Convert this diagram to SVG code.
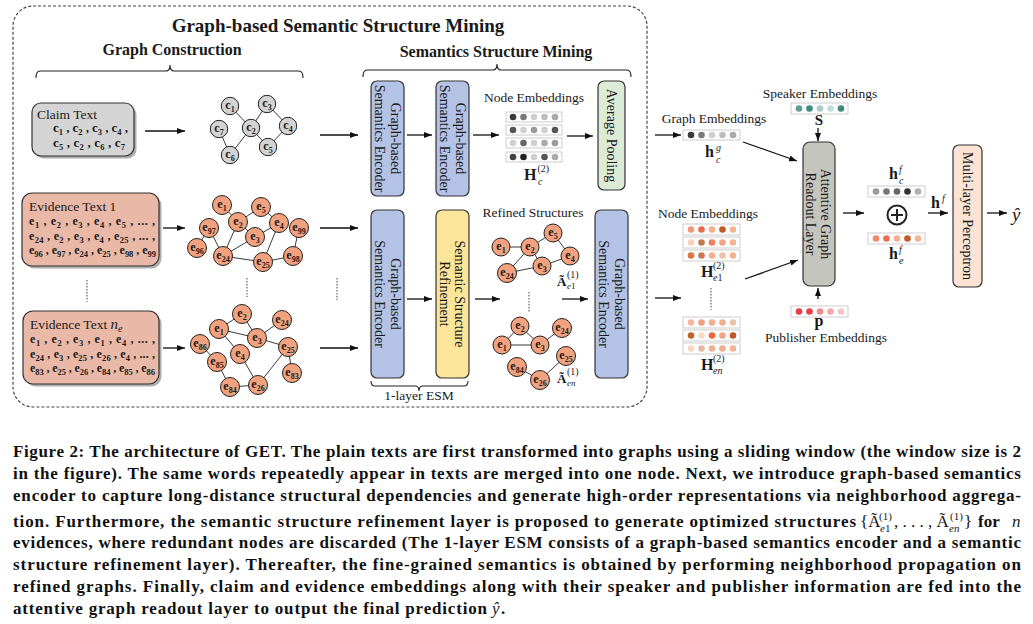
<svg xmlns="http://www.w3.org/2000/svg" width="1033" height="624" viewBox="0 0 1033 624">
<defs>
<marker id="ah" markerUnits="userSpaceOnUse" markerWidth="8" markerHeight="6" refX="8" refY="3" orient="auto"><path d="M0,0 L8,3 L0,6 z" fill="#111"/></marker>
<style>
text{font-family:"Liberation Serif","Times New Roman",serif;fill:#1a1a1a}
.title{font-size:19px;font-weight:bold;text-anchor:middle}
.hd{font-size:16px;font-weight:bold;text-anchor:middle}
.lbl{font-size:13.5px}
.mid{text-anchor:middle}
.rt{font-size:14px;text-anchor:middle}
.bt{font-size:13px;font-weight:bold}
.et{font-size:12px;font-weight:bold}
.s{font-size:8.5px}
.box{stroke:#333;stroke-width:1.2}
.enc{fill:#b4c3e5}
.shadow{fill:#6b6b6b;opacity:.55}
.nc circle{fill:#d3d3d3;stroke:#222;stroke-width:1}
.ne circle{fill:#f2a27f;stroke:#222;stroke-width:1}
.nl{font-size:12px;font-weight:bold;text-anchor:middle}
.ns{font-size:8px}
.edge{stroke:#222;stroke-width:.9;fill:none}
.arr{stroke:#111;stroke-width:1.3;fill:none;marker-end:url(#ah)}
.dotl{stroke:#555;stroke-width:1.1;stroke-dasharray:1.5 1.5}
.brace{stroke:#222;stroke-width:1.1;fill:none}
.row{fill:#fff;stroke:#cdcdcd;stroke-width:1}
.mb{font-size:16px;font-weight:bold}
.ms{font-size:10px}
.mi{font-size:10px;font-style:italic}
.cap{font-size:17px;font-weight:bold;fill:#111}
.capm{font-size:17px;fill:#111}
</style>
</defs>
<rect width="1033" height="624" fill="#fff"/>

<g id="frame">
<rect x="13" y="6" width="634" height="401" rx="20" fill="none" stroke="#444" stroke-width="1.2" stroke-dasharray="3 2"/>
<text class="title" x="338" y="32">Graph-based Semantic Structure Mining</text>
</g>

<g id="graph-construction-label">
<text class="hd" x="172" y="55">Graph Construction</text>
<path class="brace" d="M36,78 Q36,71 40,71 L166,71 Q170,71 170,65 Q170,71 174,71 L299,71 Q303,71 303,78"/>
</g>
<g id="semantics-structure-mining-label">
<text class="hd" x="496" y="57">Semantics Structure Mining</text>
<path class="brace" d="M363,77 Q363,70 367,70 L493,70 Q497,70 497,64 Q497,70 501,70 L627,70 Q631,70 631,77"/>
</g>
<g id="esm-label">
<path class="brace" d="M371,381 Q371,386 375,386 L415,386 Q419,386 419,391 Q419,386 423,386 L464,386 Q468,386 468,381"/>
<text class="lbl mid" x="419" y="400">1-layer ESM</text>
</g>

<g id="connectors">
<!-- claim graph edges -->
<line class="edge" x1="230" y1="106" x2="251" y2="128"/>
<line class="edge" x1="251" y1="128" x2="267" y2="104"/>
<line class="edge" x1="267" y1="104" x2="288" y2="126"/>
<line class="edge" x1="288" y1="126" x2="268" y2="147"/>
<line class="edge" x1="268" y1="147" x2="251" y2="128"/>
<line class="edge" x1="251" y1="128" x2="230" y2="155"/>
<line class="edge" x1="230" y1="155" x2="219" y2="129"/>
<!-- evidence 1 edges -->
<line class="edge" x1="222" y1="205" x2="238" y2="222"/>
<line class="edge" x1="238" y1="222" x2="261" y2="207"/>
<line class="edge" x1="261" y1="207" x2="279" y2="223"/>
<line class="edge" x1="279" y1="223" x2="255" y2="237"/>
<line class="edge" x1="238" y1="222" x2="255" y2="237"/>
<line class="edge" x1="238" y1="222" x2="223" y2="256"/>
<line class="edge" x1="255" y1="237" x2="223" y2="256"/>
<line class="edge" x1="279" y1="223" x2="263" y2="262"/>
<line class="edge" x1="209" y1="228" x2="197" y2="248"/>
<line class="edge" x1="209" y1="228" x2="223" y2="256"/>
<line class="edge" x1="223" y1="256" x2="263" y2="262"/>
<line class="edge" x1="263" y1="262" x2="293" y2="256"/>
<line class="edge" x1="293" y1="256" x2="299" y2="228"/>
<!-- evidence n edges -->
<line class="edge" x1="219" y1="329" x2="242" y2="314"/>
<line class="edge" x1="242" y1="314" x2="257" y2="338"/>
<line class="edge" x1="219" y1="329" x2="257" y2="338"/>
<line class="edge" x1="257" y1="338" x2="282" y2="320"/>
<line class="edge" x1="257" y1="338" x2="288" y2="347"/>
<line class="edge" x1="219" y1="329" x2="240" y2="354"/>
<line class="edge" x1="240" y1="354" x2="258" y2="385"/>
<line class="edge" x1="258" y1="385" x2="288" y2="347"/>
<line class="edge" x1="288" y1="347" x2="292" y2="373"/>
<line class="edge" x1="200" y1="344" x2="217" y2="362"/>
<line class="edge" x1="217" y1="362" x2="230" y2="387"/>
<line class="edge" x1="230" y1="387" x2="258" y2="385"/>
<!-- refined 1 edges -->
<line class="edge" x1="501" y1="247" x2="530" y2="247"/>
<line class="edge" x1="530" y1="247" x2="553" y2="233"/>
<line class="edge" x1="553" y1="233" x2="570" y2="256"/>
<line class="edge" x1="570" y1="256" x2="542" y2="266"/>
<line class="edge" x1="530" y1="247" x2="542" y2="266"/>
<line class="edge" x1="530" y1="247" x2="507" y2="273"/>
<line class="edge" x1="507" y1="273" x2="542" y2="266"/>
<!-- refined n edges -->
<line class="edge" x1="502" y1="345" x2="520" y2="326"/>
<line class="edge" x1="502" y1="345" x2="540" y2="345"/>
<line class="edge" x1="520" y1="326" x2="540" y2="345"/>
<line class="edge" x1="540" y1="345" x2="562" y2="328"/>
<line class="edge" x1="566" y1="356" x2="540" y2="380"/>
<line class="edge" x1="517" y1="367" x2="540" y2="380"/>
<!-- arrows -->
<line class="arr" x1="145" y1="131" x2="185" y2="131"/>
<line class="arr" x1="320" y1="135" x2="358" y2="135"/>
<line class="arr" x1="163" y1="228" x2="185" y2="228"/>
<line class="arr" x1="320" y1="228" x2="358" y2="228"/>
<line class="arr" x1="163" y1="348" x2="185" y2="348"/>
<line class="arr" x1="320" y1="348" x2="358" y2="348"/>
<line class="arr" x1="407" y1="135" x2="432" y2="135"/>
<line class="arr" x1="473" y1="135" x2="499" y2="135"/>
<line class="arr" x1="567" y1="136" x2="593" y2="136"/>
<line class="arr" x1="655" y1="135" x2="681" y2="135"/>
<line class="arr" x1="743" y1="142" x2="797" y2="161"/>
<line class="arr" x1="818" y1="128" x2="818" y2="141"/>
<line class="arr" x1="407" y1="299" x2="432" y2="299"/>
<line class="arr" x1="475" y1="299" x2="500" y2="299"/>
<line class="arr" x1="562" y1="299" x2="588" y2="299"/>
<line class="arr" x1="655" y1="298" x2="681" y2="298"/>
<line class="arr" x1="745" y1="279" x2="798" y2="260"/>
<line class="arr" x1="818" y1="299" x2="818" y2="288"/>
<line class="arr" x1="843" y1="213" x2="864" y2="213"/>
<line class="arr" x1="928" y1="213" x2="948" y2="213"/>
<line class="arr" x1="987" y1="213" x2="1007" y2="213"/>
<!-- dotted continuation lines -->
<line class="dotl" x1="87" y1="280" x2="87" y2="302"/>
<line class="dotl" x1="247" y1="278" x2="247" y2="297"/>
<line class="dotl" x1="337" y1="278" x2="337" y2="300"/>
<line class="dotl" x1="529" y1="292" x2="529" y2="313"/>
<line class="dotl" x1="711" y1="288" x2="711" y2="310"/>
</g>

<g id="claim-text">
<rect class="shadow" x="34.5" y="105.5" width="102" height="53" rx="9"/>
<rect class="box" x="32" y="103" width="102" height="53" rx="9" fill="#d4d4d4"/>
<text class="lbl" x="37" y="119">Claim Text</text>
<text class="bt" x="53" y="132" textLength="75" lengthAdjust="spacing">c<tspan class="s" dy="3">1</tspan><tspan dy="-3"> , c</tspan><tspan class="s" dy="3">2</tspan><tspan dy="-3"> , c</tspan><tspan class="s" dy="3">3</tspan><tspan dy="-3"> , c</tspan><tspan class="s" dy="3">4</tspan><tspan dy="-3"> ,</tspan></text>
<text class="bt" x="53" y="147" textLength="72" lengthAdjust="spacing">c<tspan class="s" dy="3">5</tspan><tspan dy="-3"> , c</tspan><tspan class="s" dy="3">2</tspan><tspan dy="-3"> , c</tspan><tspan class="s" dy="3">6</tspan><tspan dy="-3"> , c</tspan><tspan class="s" dy="3">7</tspan></text>
</g>

<g id="evidence-text-1">
<rect class="shadow" x="24.5" y="195.5" width="137" height="73" rx="10"/>
<rect class="box" x="22" y="193" width="137" height="73" rx="10" fill="#e9b8a6"/>
<text class="lbl" x="29" y="211">Evidence Text 1</text>
<text class="et" x="29" y="225" textLength="126" lengthAdjust="spacing">e<tspan class="s" dy="3">1</tspan><tspan dy="-3"> , e</tspan><tspan class="s" dy="3">2</tspan><tspan dy="-3"> , e</tspan><tspan class="s" dy="3">3</tspan><tspan dy="-3"> , e</tspan><tspan class="s" dy="3">4</tspan><tspan dy="-3"> , e</tspan><tspan class="s" dy="3">5</tspan><tspan dy="-3"> , ... ,</tspan></text>
<text class="et" x="29" y="240" textLength="126" lengthAdjust="spacing">e<tspan class="s" dy="3">24</tspan><tspan dy="-3"> , e</tspan><tspan class="s" dy="3">2</tspan><tspan dy="-3"> , e</tspan><tspan class="s" dy="3">3</tspan><tspan dy="-3"> , e</tspan><tspan class="s" dy="3">4</tspan><tspan dy="-3"> , e</tspan><tspan class="s" dy="3">25</tspan><tspan dy="-3"> , ... ,</tspan></text>
<text class="et" x="29" y="254" textLength="127" lengthAdjust="spacing">e<tspan class="s" dy="3">96</tspan><tspan dy="-3"> , e</tspan><tspan class="s" dy="3">97</tspan><tspan dy="-3"> , e</tspan><tspan class="s" dy="3">24</tspan><tspan dy="-3"> , e</tspan><tspan class="s" dy="3">25</tspan><tspan dy="-3"> , e</tspan><tspan class="s" dy="3">98</tspan><tspan dy="-3"> , e</tspan><tspan class="s" dy="3">99</tspan></text>
</g>

<g id="evidence-text-n">
<rect class="shadow" x="25.5" y="313.5" width="136" height="73" rx="10"/>
<rect class="box" x="23" y="311" width="136" height="73" rx="10" fill="#e9b8a6"/>
<text class="lbl" x="30" y="329">Evidence Text <tspan font-style="italic" font-size="15px">n</tspan><tspan font-style="italic" font-size="10px" dy="3">e</tspan></text>
<text class="et" x="30" y="343" textLength="125" lengthAdjust="spacing">e<tspan class="s" dy="3">1</tspan><tspan dy="-3"> , e</tspan><tspan class="s" dy="3">2</tspan><tspan dy="-3"> , e</tspan><tspan class="s" dy="3">3</tspan><tspan dy="-3"> , e</tspan><tspan class="s" dy="3">1</tspan><tspan dy="-3"> , e</tspan><tspan class="s" dy="3">4</tspan><tspan dy="-3"> , ... ,</tspan></text>
<text class="et" x="30" y="358" textLength="125" lengthAdjust="spacing">e<tspan class="s" dy="3">24</tspan><tspan dy="-3"> , e</tspan><tspan class="s" dy="3">3</tspan><tspan dy="-3"> , e</tspan><tspan class="s" dy="3">25</tspan><tspan dy="-3"> , e</tspan><tspan class="s" dy="3">26</tspan><tspan dy="-3"> , e</tspan><tspan class="s" dy="3">4</tspan><tspan dy="-3"> , ... ,</tspan></text>
<text class="et" x="30" y="372" textLength="125" lengthAdjust="spacing">e<tspan class="s" dy="3">83</tspan><tspan dy="-3"> , e</tspan><tspan class="s" dy="3">25</tspan><tspan dy="-3"> , e</tspan><tspan class="s" dy="3">26</tspan><tspan dy="-3"> , e</tspan><tspan class="s" dy="3">84</tspan><tspan dy="-3"> , e</tspan><tspan class="s" dy="3">85</tspan><tspan dy="-3"> , e</tspan><tspan class="s" dy="3">86</tspan></text>
</g>

<!-- claim graph nodes -->
<g id="cg-c1" class="nc"><circle cx="230" cy="106" r="8.7"/><text class="nl" x="230" y="109">c<tspan class="ns" dy="2.5">1</tspan></text></g>
<g id="cg-c3" class="nc"><circle cx="267" cy="104" r="8.7"/><text class="nl" x="267" y="107">c<tspan class="ns" dy="2.5">3</tspan></text></g>
<g id="cg-c7" class="nc"><circle cx="219" cy="129" r="8.7"/><text class="nl" x="219" y="132">c<tspan class="ns" dy="2.5">7</tspan></text></g>
<g id="cg-c2" class="nc"><circle cx="251" cy="128" r="8.7"/><text class="nl" x="251" y="131">c<tspan class="ns" dy="2.5">2</tspan></text></g>
<g id="cg-c4" class="nc"><circle cx="288" cy="126" r="8.7"/><text class="nl" x="288" y="129">c<tspan class="ns" dy="2.5">4</tspan></text></g>
<g id="cg-c6" class="nc"><circle cx="230" cy="155" r="8.7"/><text class="nl" x="230" y="158">c<tspan class="ns" dy="2.5">6</tspan></text></g>
<g id="cg-c5" class="nc"><circle cx="268" cy="147" r="8.7"/><text class="nl" x="268" y="150">c<tspan class="ns" dy="2.5">5</tspan></text></g>

<!-- evidence 1 graph nodes -->
<g id="e1g-e1" class="ne"><circle cx="222" cy="205" r="9.5"/><text class="nl" x="222" y="208">e<tspan class="ns" dy="2.5">1</tspan></text></g>
<g id="e1g-e5" class="ne"><circle cx="261" cy="207" r="9.5"/><text class="nl" x="261" y="210">e<tspan class="ns" dy="2.5">5</tspan></text></g>
<g id="e1g-e2" class="ne"><circle cx="238" cy="222" r="9.5"/><text class="nl" x="238" y="225">e<tspan class="ns" dy="2.5">2</tspan></text></g>
<g id="e1g-e97" class="ne"><circle cx="209" cy="228" r="9.5"/><text class="nl" x="209" y="231">e<tspan class="ns" dy="2.5">97</tspan></text></g>
<g id="e1g-e4" class="ne"><circle cx="279" cy="223" r="9.5"/><text class="nl" x="279" y="226">e<tspan class="ns" dy="2.5">4</tspan></text></g>
<g id="e1g-e99" class="ne"><circle cx="299" cy="228" r="9.5"/><text class="nl" x="299" y="231">e<tspan class="ns" dy="2.5">99</tspan></text></g>
<g id="e1g-e3" class="ne"><circle cx="255" cy="237" r="9.5"/><text class="nl" x="255" y="240">e<tspan class="ns" dy="2.5">3</tspan></text></g>
<g id="e1g-e96" class="ne"><circle cx="197" cy="248" r="9.5"/><text class="nl" x="197" y="251">e<tspan class="ns" dy="2.5">96</tspan></text></g>
<g id="e1g-e24" class="ne"><circle cx="223" cy="256" r="9.5"/><text class="nl" x="223" y="259">e<tspan class="ns" dy="2.5">24</tspan></text></g>
<g id="e1g-e25" class="ne"><circle cx="263" cy="262" r="9.5"/><text class="nl" x="263" y="265">e<tspan class="ns" dy="2.5">25</tspan></text></g>
<g id="e1g-e98" class="ne"><circle cx="293" cy="256" r="9.5"/><text class="nl" x="293" y="259">e<tspan class="ns" dy="2.5">98</tspan></text></g>

<!-- evidence n graph nodes -->
<g id="eng-e2" class="ne"><circle cx="242" cy="314" r="9.5"/><text class="nl" x="242" y="317">e<tspan class="ns" dy="2.5">2</tspan></text></g>
<g id="eng-e24" class="ne"><circle cx="282" cy="320" r="9.5"/><text class="nl" x="282" y="323">e<tspan class="ns" dy="2.5">24</tspan></text></g>
<g id="eng-e1" class="ne"><circle cx="219" cy="329" r="9.5"/><text class="nl" x="219" y="332">e<tspan class="ns" dy="2.5">1</tspan></text></g>
<g id="eng-e86" class="ne"><circle cx="200" cy="344" r="9.5"/><text class="nl" x="200" y="347">e<tspan class="ns" dy="2.5">86</tspan></text></g>
<g id="eng-e3" class="ne"><circle cx="257" cy="338" r="9.5"/><text class="nl" x="257" y="341">e<tspan class="ns" dy="2.5">3</tspan></text></g>
<g id="eng-e25" class="ne"><circle cx="288" cy="347" r="9.5"/><text class="nl" x="288" y="350">e<tspan class="ns" dy="2.5">25</tspan></text></g>
<g id="eng-e4" class="ne"><circle cx="240" cy="354" r="9.5"/><text class="nl" x="240" y="357">e<tspan class="ns" dy="2.5">4</tspan></text></g>
<g id="eng-e85" class="ne"><circle cx="217" cy="362" r="9.5"/><text class="nl" x="217" y="365">e<tspan class="ns" dy="2.5">85</tspan></text></g>
<g id="eng-e83" class="ne"><circle cx="292" cy="373" r="9.5"/><text class="nl" x="292" y="376">e<tspan class="ns" dy="2.5">83</tspan></text></g>
<g id="eng-e84" class="ne"><circle cx="230" cy="387" r="9.5"/><text class="nl" x="230" y="390">e<tspan class="ns" dy="2.5">84</tspan></text></g>
<g id="eng-e26" class="ne"><circle cx="258" cy="385" r="9.5"/><text class="nl" x="258" y="388">e<tspan class="ns" dy="2.5">26</tspan></text></g>

<!-- encoders and layers -->
<g id="encoder-1"><rect class="box enc" x="371" y="81" width="33" height="115" rx="6"/>
<text class="rt" transform="translate(390.5,138.5) rotate(90)"><tspan x="0" y="0">Graph-based</tspan><tspan x="0" y="16">Semantics Encoder</tspan></text></g>
<g id="encoder-2"><rect class="box enc" x="436" y="81" width="33" height="115" rx="6"/>
<text class="rt" transform="translate(455.5,138.5) rotate(90)"><tspan x="0" y="0">Graph-based</tspan><tspan x="0" y="16">Semantics Encoder</tspan></text></g>
<g id="average-pooling"><rect class="box" x="598" y="81" width="27" height="109" rx="6" fill="#dcebd5"/>
<text class="rt" transform="translate(607,135.5) rotate(90)">Average Pooling</text></g>
<g id="encoder-3"><rect class="box enc" x="371" y="210" width="33" height="168" rx="6"/>
<text class="rt" transform="translate(390.5,294) rotate(90)"><tspan x="0" y="0">Graph-based</tspan><tspan x="0" y="16">Semantics Encoder</tspan></text></g>
<g id="semantic-structure-refinement"><rect class="box" x="436" y="210" width="33" height="168" rx="6" fill="#fbe59b"/>
<text class="rt" transform="translate(455,294) rotate(90)"><tspan x="0" y="0">Semantic Structure</tspan><tspan x="0" y="15">Refinement</tspan></text></g>
<g id="encoder-4"><rect class="box enc" x="595" y="210" width="33" height="168" rx="6"/>
<text class="rt" transform="translate(614.5,294) rotate(90)"><tspan x="0" y="0">Graph-based</tspan><tspan x="0" y="16">Semantics Encoder</tspan></text></g>

<!-- claim node embeddings H_c -->
<g id="node-embeddings-claim">
<text class="lbl mid" x="534" y="102">Node Embeddings</text>
<rect class="row" x="506" y="112" width="56" height="10"/>
<circle cx="513" cy="117" r="3.3" fill="#3a3a3a"/><circle cx="523.5" cy="117" r="3.3" fill="#7a7a7a"/><circle cx="534" cy="117" r="3.3" fill="#cfcfcf"/><circle cx="544.5" cy="117" r="3.3" fill="#bdbdbd"/><circle cx="555" cy="117" r="3.3" fill="#a9a9a9"/>
<rect class="row" x="506" y="125" width="56" height="10"/>
<circle cx="513" cy="130" r="3.3" fill="#555"/><circle cx="523.5" cy="130" r="3.3" fill="#cfcfcf"/><circle cx="534" cy="130" r="3.3" fill="#9a9a9a"/><circle cx="544.5" cy="130" r="3.3" fill="#cfcfcf"/><circle cx="555" cy="130" r="3.3" fill="#555"/>
<rect class="row" x="506" y="138" width="56" height="10"/>
<circle cx="513" cy="143" r="3.3" fill="#cfcfcf"/><circle cx="523.5" cy="143" r="3.3" fill="#666"/><circle cx="534" cy="143" r="3.3" fill="#cfcfcf"/><circle cx="544.5" cy="143" r="3.3" fill="#aaa"/><circle cx="555" cy="143" r="3.3" fill="#9a9a9a"/>
<rect class="row" x="506" y="152" width="56" height="10"/>
<circle cx="513" cy="157" r="3.3" fill="#444"/><circle cx="523.5" cy="157" r="3.3" fill="#222"/><circle cx="534" cy="157" r="3.3" fill="#d0d0d0"/><circle cx="544.5" cy="157" r="3.3" fill="#555"/><circle cx="555" cy="157" r="3.3" fill="#aaa"/>
<text class="mb" x="524" y="180">H</text><text class="ms" x="537.5" y="172">(2)</text><text class="mi" x="538" y="185">c</text>
</g>

<!-- refined structures -->
<g id="refined-structures-label"><text class="lbl mid" x="533" y="217">Refined Structures</text></g>
<g id="r1-e1" class="ne"><circle cx="501" cy="247" r="9"/><text class="nl" x="501" y="250">e<tspan class="ns" dy="2.5">1</tspan></text></g>
<g id="r1-e2" class="ne"><circle cx="530" cy="247" r="9"/><text class="nl" x="530" y="250">e<tspan class="ns" dy="2.5">2</tspan></text></g>
<g id="r1-e5" class="ne"><circle cx="553" cy="233" r="9"/><text class="nl" x="553" y="236">e<tspan class="ns" dy="2.5">5</tspan></text></g>
<g id="r1-e4" class="ne"><circle cx="570" cy="256" r="9"/><text class="nl" x="570" y="259">e<tspan class="ns" dy="2.5">4</tspan></text></g>
<g id="r1-e3" class="ne"><circle cx="542" cy="266" r="9"/><text class="nl" x="542" y="269">e<tspan class="ns" dy="2.5">3</tspan></text></g>
<g id="r1-e24" class="ne"><circle cx="507" cy="273" r="9.5"/><text class="nl" x="507" y="276">e<tspan class="ns" dy="2.5">24</tspan></text></g>
<g id="A-e1"><text class="capm" x="557" y="286" font-size="13px" font-weight="bold" style="font-size:13px;font-weight:bold">Ã</text><text class="ms" x="567" y="278">(1)</text><text x="567" y="289" style="font-size:9px"><tspan font-style="italic">e</tspan>1</text></g>
<g id="rn-e2" class="ne"><circle cx="520" cy="326" r="9"/><text class="nl" x="520" y="329">e<tspan class="ns" dy="2.5">2</tspan></text></g>
<g id="rn-e24" class="ne"><circle cx="562" cy="328" r="9.5"/><text class="nl" x="562" y="331">e<tspan class="ns" dy="2.5">24</tspan></text></g>
<g id="rn-e1" class="ne"><circle cx="502" cy="345" r="9"/><text class="nl" x="502" y="348">e<tspan class="ns" dy="2.5">1</tspan></text></g>
<g id="rn-e3" class="ne"><circle cx="540" cy="345" r="9"/><text class="nl" x="540" y="348">e<tspan class="ns" dy="2.5">3</tspan></text></g>
<g id="rn-e25" class="ne"><circle cx="566" cy="356" r="9.5"/><text class="nl" x="566" y="359">e<tspan class="ns" dy="2.5">25</tspan></text></g>
<g id="rn-e84" class="ne"><circle cx="517" cy="367" r="9.5"/><text class="nl" x="517" y="370">e<tspan class="ns" dy="2.5">84</tspan></text></g>
<g id="rn-e26" class="ne"><circle cx="540" cy="380" r="9.5"/><text class="nl" x="540" y="383">e<tspan class="ns" dy="2.5">26</tspan></text></g>
<g id="A-en"><text x="557" y="383" style="font-size:13px;font-weight:bold">Ã</text><text class="ms" x="567" y="375">(1)</text><text x="567" y="386" style="font-size:9px;font-style:italic">en</text></g>

<!-- right side -->
<g id="graph-embeddings">
<text class="lbl mid" x="714" y="123">Graph Embeddings</text>
<rect class="row" x="683" y="130" width="57" height="10"/>
<circle cx="691" cy="135" r="3.3" fill="#3a3a3a"/><circle cx="701.5" cy="135" r="3.3" fill="#7a7a7a"/><circle cx="712" cy="135" r="3.3" fill="#cfcfcf"/><circle cx="722.5" cy="135" r="3.3" fill="#bdbdbd"/><circle cx="733" cy="135" r="3.3" fill="#a9a9a9"/>
<text class="mb" x="705" y="157">h</text><text class="mi" x="716" y="151">g</text><text class="mi" x="716" y="163">c</text>
</g>

<g id="speaker-embeddings">
<text class="lbl mid" x="820" y="98">Speaker Embeddings</text>
<rect class="row" x="791" y="103" width="57" height="11"/>
<circle cx="799" cy="108.5" r="3.3" fill="#5fa095"/><circle cx="809.5" cy="108.5" r="3.3" fill="#3d8a7e"/><circle cx="820" cy="108.5" r="3.3" fill="#a9cfc8"/><circle cx="830.5" cy="108.5" r="3.3" fill="#c3ddd8"/><circle cx="841" cy="108.5" r="3.3" fill="#3d8b7d"/>
<text class="mb mid" x="819" y="125" style="font-size:15px">S</text>
</g>

<g id="node-embeddings-evidence-1">
<text class="lbl mid" x="708" y="218">Node Embeddings</text>
<rect class="row" x="683" y="224" width="57" height="11"/>
<circle cx="691" cy="229.5" r="3.3" fill="#f3977a"/><circle cx="701.5" cy="229.5" r="3.3" fill="#ee6a4e"/><circle cx="712" cy="229.5" r="3.3" fill="#f2b090"/><circle cx="722.5" cy="229.5" r="3.3" fill="#c05a28"/><circle cx="733" cy="229.5" r="3.3" fill="#f2b594"/>
<rect class="row" x="683" y="237" width="57" height="11"/>
<circle cx="691" cy="242.5" r="3.3" fill="#f6d0bb"/><circle cx="701.5" cy="242.5" r="3.3" fill="#c27a52"/><circle cx="712" cy="242.5" r="3.3" fill="#ef7f5f"/><circle cx="722.5" cy="242.5" r="3.3" fill="#f1a383"/><circle cx="733" cy="242.5" r="3.3" fill="#f2b594"/>
<rect class="row" x="683" y="250" width="57" height="11"/>
<circle cx="691" cy="255.5" r="3.3" fill="#e07545"/><circle cx="701.5" cy="255.5" r="3.3" fill="#c47a52"/><circle cx="712" cy="255.5" r="3.3" fill="#f2b090"/><circle cx="722.5" cy="255.5" r="3.3" fill="#f3c0a3"/><circle cx="733" cy="255.5" r="3.3" fill="#f2b594"/>
<text class="mb" x="701" y="277">H</text><text class="ms" x="713" y="269">(2)</text><text x="713" y="281" style="font-size:10px"><tspan font-style="italic">e</tspan>1</text>
</g>

<g id="node-embeddings-evidence-n">
<rect class="row" x="683" y="317" width="57" height="11"/>
<circle cx="691" cy="322.5" r="3.3" fill="#f4b8a0"/><circle cx="701.5" cy="322.5" r="3.3" fill="#f1a082"/><circle cx="712" cy="322.5" r="3.3" fill="#f2b090"/><circle cx="722.5" cy="322.5" r="3.3" fill="#f0b08c"/><circle cx="733" cy="322.5" r="3.3" fill="#e9c3ab"/>
<rect class="row" x="683" y="330" width="57" height="11"/>
<circle cx="691" cy="335.5" r="3.3" fill="#c0652f"/><circle cx="701.5" cy="335.5" r="3.3" fill="#f8d8c8"/><circle cx="712" cy="335.5" r="3.3" fill="#e8683a"/><circle cx="722.5" cy="335.5" r="3.3" fill="#f1a383"/><circle cx="733" cy="335.5" r="3.3" fill="#c0582a"/>
<rect class="row" x="683" y="343" width="57" height="11"/>
<circle cx="691" cy="348.5" r="3.3" fill="#f8d8c8"/><circle cx="701.5" cy="348.5" r="3.3" fill="#e6b9a3"/><circle cx="712" cy="348.5" r="3.3" fill="#f2b090"/><circle cx="722.5" cy="348.5" r="3.3" fill="#f0b08c"/><circle cx="733" cy="348.5" r="3.3" fill="#f2b594"/>
<text class="mb" x="701" y="370">H</text><text class="ms" x="713" y="362">(2)</text><text x="713" y="374" style="font-size:10px;font-style:italic">en</text>
</g>

<g id="readout-layer"><rect class="box" x="803" y="142" width="32" height="144" rx="7" fill="#c4c6be"/>
<text class="rt" transform="translate(820.5,214) rotate(90)"><tspan x="0" y="0">Attentive Graph</tspan><tspan x="0" y="15">Readout Layer</tspan></text></g>

<g id="publisher-embeddings">
<rect class="row" x="791" y="306" width="57" height="11"/>
<circle cx="799" cy="311.5" r="3.3" fill="#e53e48"/><circle cx="809.5" cy="311.5" r="3.3" fill="#e53e48"/><circle cx="820" cy="311.5" r="3.3" fill="#f08890"/><circle cx="830.5" cy="311.5" r="3.3" fill="#f4a6ab"/><circle cx="841" cy="311.5" r="3.3" fill="#f7c3c6"/>
<text class="mb mid" x="819" y="326">p</text>
<text class="lbl mid" x="826" y="342">Publisher Embeddings</text>
</g>

<g id="h-c-f">
<text class="mb" x="889" y="179">h</text><text class="mi" x="899" y="173">f</text><text class="mi" x="899" y="184">c</text>
<rect class="row" x="868" y="186" width="57" height="11"/>
<circle cx="876" cy="191.5" r="3.3" fill="#9a9a9a"/><circle cx="886.5" cy="191.5" r="3.3" fill="#777"/><circle cx="897" cy="191.5" r="3.3" fill="#666"/><circle cx="907.5" cy="191.5" r="3.3" fill="#333"/><circle cx="918" cy="191.5" r="3.3" fill="#b0b0b0"/>
</g>
<g id="concat">
<circle cx="897" cy="215" r="9.5" fill="none" stroke="#222" stroke-width="2"/>
<line x1="891" y1="215" x2="903" y2="215" stroke="#222" stroke-width="2"/>
<line x1="897" y1="209" x2="897" y2="221" stroke="#222" stroke-width="2"/>
</g>
<g id="h-e-f">
<rect class="row" x="868" y="233" width="57" height="11"/>
<circle cx="876" cy="238.5" r="3.3" fill="#f08a68"/><circle cx="886.5" cy="238.5" r="3.3" fill="#ec6e50"/><circle cx="897" cy="238.5" r="3.3" fill="#f2b090"/><circle cx="907.5" cy="238.5" r="3.3" fill="#c05a28"/><circle cx="918" cy="238.5" r="3.3" fill="#f2b594"/>
<text class="mb" x="889" y="259">h</text><text class="mi" x="899" y="253">f</text><text class="mi" x="899" y="264">e</text>
</g>
<g id="h-f"><text class="mb" x="931" y="208">h</text><text class="mi" x="942" y="202">f</text></g>

<g id="mlp"><rect class="box" x="953" y="145" width="29" height="142" rx="6" fill="#fbe4d5"/>
<text class="rt" transform="translate(963,216) rotate(90)">Multi-layer Perceptron</text></g>
<g id="y-hat"><text x="1012" y="221" style="font-size:19px;font-style:italic">ŷ</text></g>

<!-- caption -->
<g id="caption">
<text class="cap" x="13" y="457" textLength="1008" lengthAdjust="spacing">Figure 2: The architecture of GET. The plain texts are first transformed into graphs using a sliding window (the window size is 2</text>
<text class="cap" x="13" y="479" textLength="1008" lengthAdjust="spacing">in the figure). The same words repeatedly appear in texts are merged into one node. Next, we introduce graph-based semantics</text>
<text class="cap" x="13" y="501" textLength="1008" lengthAdjust="spacing">encoder to capture long-distance structural dependencies and generate high-order representations via neighborhood aggrega-</text>
<text class="cap" x="13" y="527" textLength="843" lengthAdjust="spacing">tion. Furthermore, the semantic structure refinement layer is proposed to generate optimized structures</text>
<text class="capm" x="860" y="527">{Ã</text>
<text x="879" y="520" style="font-size:11px">(1)</text>
<text x="880" y="532" style="font-size:11px"><tspan font-style="italic">e</tspan>1</text>
<text class="capm" x="894" y="527">, . . . , Ã</text>
<text x="950" y="520" style="font-size:11px">(1)</text>
<text x="949" y="532" style="font-size:11px;font-style:italic">en</text>
<text class="capm" x="964" y="527">}</text>
<text class="cap" x="978" y="527">for</text>
<text x="1012" y="527" style="font-size:17px;font-style:italic">n</text>
<text class="cap" x="13" y="548" textLength="1008" lengthAdjust="spacing">evidences, where redundant nodes are discarded (The 1-layer ESM consists of a graph-based semantics encoder and a semantic</text>
<text class="cap" x="13" y="570" textLength="1008" lengthAdjust="spacing">structure refinement layer). Thereafter, the fine-grained semantics is obtained by performing neighborhood propagation on</text>
<text class="cap" x="13" y="592" textLength="1008" lengthAdjust="spacing">refined graphs. Finally, claim and evidence embeddings along with their speaker and publisher information are fed into the</text>
<text class="cap" x="13" y="614" textLength="474" lengthAdjust="spacing">attentive graph readout layer to output the final prediction</text>
<text x="492" y="614" style="font-size:17px;font-style:italic">ŷ</text>
<text class="cap" x="501" y="614">.</text>
</g>
</svg>
